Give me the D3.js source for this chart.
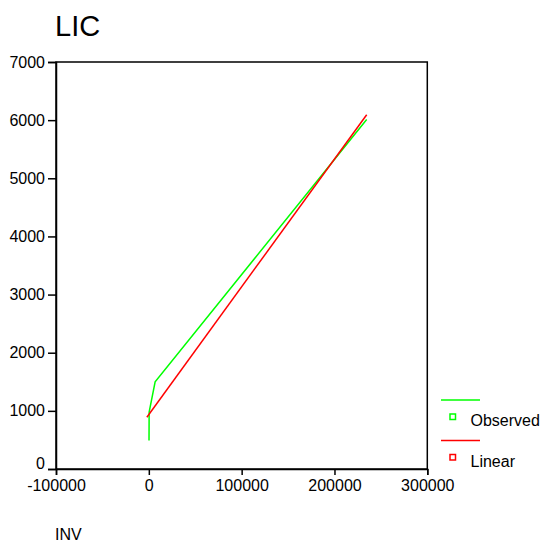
<!DOCTYPE html>
<html><head><meta charset="utf-8">
<script src="https://cdn.jsdelivr.net/npm/d3@7"></script>
<style>
body{margin:0;background:#fff;}
text{font-family:"Liberation Sans",Arial,sans-serif;fill:#000;}
</style></head>
<body><svg id="c" width="543" height="544"></svg>
<script>
const title = "LIC";
const xTitle = "INV";
const xTicks = [-100000, 0, 100000, 200000, 300000];
const yTicks = [0, 1000, 2000, 3000, 4000, 5000, 6000, 7000];
const observedX = [200, 350, 6800, 234700];
const observedY = [490, 980, 1500, 6010];
const linearX = [-2100, 234700];
const linearY = [890, 6093];
const seriesNames = ["Observed", "Linear"];
const seriesColors = ["#00ff00", "#ff0000"];

const svg = d3.select("#c");
const x = d3.scaleLinear().domain([-100000, 300000]).range([56, 427.3]);
const y = d3.scaleLinear().domain([0, 7000]).range([469, 62]);

svg.append("text").attr("x", 55).attr("y", 36).attr("font-size", 29).text(title);

// frame
svg.append("rect").attr("x", x(-100000)).attr("y", y(7000))
  .attr("width", x(300000) - x(-100000)).attr("height", y(0) - y(7000))
  .attr("fill", "none").attr("stroke", "#000").attr("stroke-width", 1.5);

const fmt = d => String(d);
const xAxis = svg.append("g").attr("transform", `translate(0,${y(0)})`)
  .call(d3.axisBottom(x).tickValues(xTicks).tickFormat(fmt).tickSize(6).tickPadding(5));
const yAxis = svg.append("g").attr("transform", `translate(${x(-100000)},0)`)
  .call(d3.axisLeft(y).tickValues(yTicks).tickFormat(fmt).tickSize(8).tickPadding(3));
[xAxis, yAxis].forEach(a => {
  a.select(".domain").attr("stroke", "#000").attr("stroke-width", 1.5);
  a.selectAll(".tick line").attr("stroke", "#000").attr("stroke-width", 1.5);
  a.selectAll("text").attr("font-size", 16).attr("font-family", "Liberation Sans, Arial, sans-serif").attr("fill", "#000");
});
yAxis.selectAll(".tick").filter(d => d === 0).select("text").attr("dy", "-0.05em");

const line = d3.line().x(d => x(d[0])).y(d => y(d[1]));
const obs = observedX.map((v, i) => [v, observedY[i]]);
const lin = linearX.map((v, i) => [v, linearY[i]]);
svg.append("path").datum(obs).attr("d", line).attr("fill", "none")
  .attr("stroke", seriesColors[0]).attr("stroke-width", 1.5);
svg.append("path").datum(lin).attr("d", line).attr("fill", "none")
  .attr("stroke", seriesColors[1]).attr("stroke-width", 1.5);

svg.append("text").attr("x", 55).attr("y", 544 - 4).attr("font-size", 16).text(xTitle);

// legend
const lg = svg.append("g");
seriesNames.forEach((n, i) => {
  const oy = 400 + i * 40.5;
  lg.append("line").attr("x1", 441).attr("x2", 480).attr("y1", oy).attr("y2", oy)
    .attr("stroke", seriesColors[i]).attr("stroke-width", 1.5);
  lg.append("rect").attr("x", 450).attr("y", oy + 14).attr("width", 5.5).attr("height", 5.5)
    .attr("fill", "none").attr("stroke", seriesColors[i]).attr("stroke-width", 1.5);
  lg.append("text").attr("x", 470.5).attr("y", oy + 26).attr("font-size", 16).text(n);
});
</script></body></html>
